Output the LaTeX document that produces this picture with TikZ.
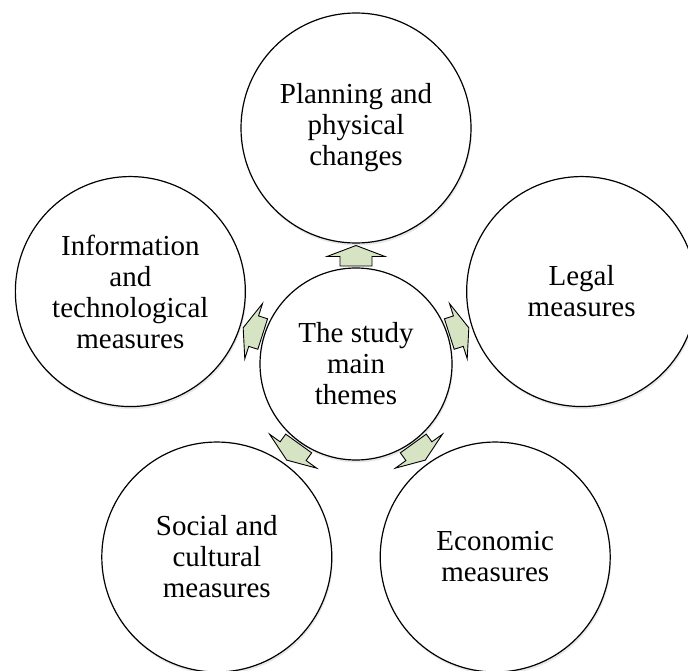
\documentclass[tikz,border=0pt]{standalone}
\usepackage{fontspec}
\setmainfont{Liberation Serif}
\usetikzlibrary{shadows,calc}
\tikzset{
  bubble/.style={circle, draw=black, line width=1.2pt, fill=white, inner sep=0pt,
    minimum size=230pt, align=center, font=\fontsize{29}{31}\selectfont,
    drop shadow={opacity=0.18, shadow xshift=1pt, shadow yshift=-2.5pt}},
  hub/.style={bubble, minimum size=192pt},
  blockarrow/.style={draw=black, line width=0.9pt, fill=arrowgreen, line join=miter}
}
\definecolor{arrowgreen}{HTML}{D6E4C4}
\begin{document}
\begin{tikzpicture}[x=1pt,y=1pt]
\clip (0,0) rectangle (688,670);
\fill[white] (0,0) rectangle (688,670);
\coordinate (o) at (356,306);
\node[bubble] (top) at ($(o)+(90:236)$) {Planning and\\physical\\changes};
\node[bubble] (legal) at ($(o)+(17.8:237)$) {Legal\\measures};
\node[bubble] (info) at ($(o)+(162.2:237)$) {Information\\and\\technological\\measures};
\node[bubble] (social) at ($(o)+(-125.8:238)$) {Social and\\cultural\\measures};
\node[bubble] (econ) at ($(o)+(-54.2:238)$) {Economic\\measures};
\node[hub] (hub) at (o) {The study\\main\\themes};
\foreach \t/\a in {top/90, legal/17.8, info/162.2, social/-125.8, econ/-54.2}{
  \begin{scope}[shift={(hub.center)}, rotate=\a]
    \draw[blockarrow] (98,-16) -- (107.5,-16) -- (107.5,-29) -- (118.5,0)
      -- (107.5,29) -- (107.5,16) -- (98,16) -- cycle;
  \end{scope}
}
\end{tikzpicture}
\end{document}
